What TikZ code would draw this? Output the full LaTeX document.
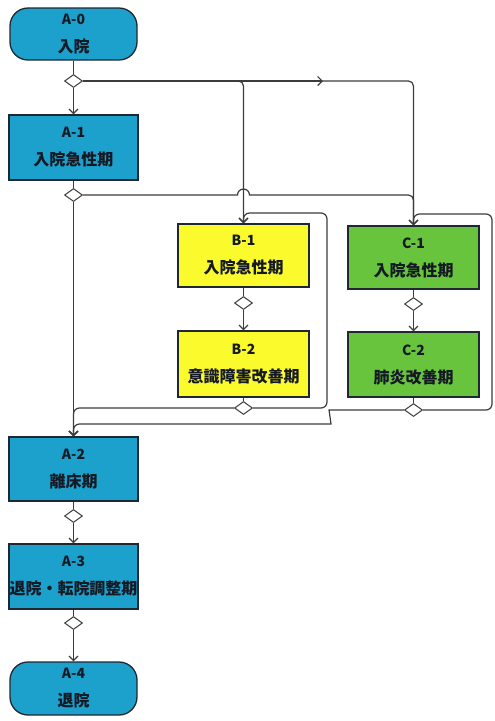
\documentclass[tikz,border=0pt]{standalone}
\usepackage{fontspec}
\newfontfamily\jpfont{Noto Sans CJK JP}
\usetikzlibrary{shapes.geometric,arrows.meta}
\definecolor{cblue}{RGB}{28,160,204}
\definecolor{cyel}{RGB}{250,250,45}
\definecolor{cgrn}{RGB}{104,196,60}
\definecolor{cline}{RGB}{60,60,60}
\definecolor{cborder}{RGB}{30,40,50}
\definecolor{ctext}{RGB}{20,25,35}
\newcommand\twolbl[2]{{\fontsize{14}{16}\selectfont #1}\\[12pt]#2}
\begin{document}
\begin{tikzpicture}[x=1pt,y=-1pt,
  box/.style={draw=cborder, line width=1.3pt, minimum width=129pt, minimum height=64pt,
    inner sep=0pt, align=center, font=\jpfont\bfseries\fontsize{16}{16}\selectfont, text=ctext},
  abox/.style={box, fill=cblue},
  bbox/.style={box, fill=cyel, minimum width=131pt},
  cbox/.style={box, fill=cgrn, minimum width=131pt},
  term/.style={abox, rounded corners=18pt, minimum width=127pt, minimum height=52pt},
  gw/.style={diamond, draw=cline, fill=white, line width=1pt, minimum width=18pt,
    minimum height=13pt, inner sep=0pt},
  link/.style={draw=cline, line width=1.2pt},
  arr/.style={link, -{Straight Barb[length=4.5pt,width=9pt]}},
]
\useasboundingbox (0,0) rectangle (495,721);

% main column
\node[term] (A0) at (73.5,34) {\twolbl{A-0}{入院}};
\node[gw] (D1) at (73.5,81) {};
\node[abox, minimum height=65pt] (A1) at (73.5,147.5) {\twolbl{A-1}{入院急性期}};
\node[gw] (D2) at (73.5,195) {};
\node[abox] (A2) at (73.5,469) {\twolbl{A-2}{離床期}};
\node[gw] (D3) at (73.5,516) {};
\node[abox, minimum height=65pt] (A3) at (73.5,576.5) {\twolbl{A-3}{退院・転院調整期}};
\node[gw] (D4) at (73.5,623) {};
\node[term, minimum height=53pt] (A4) at (73.5,688.5) {\twolbl{A-4}{退院}};

% B column
\node[bbox, minimum height=63pt] (B1) at (243.5,255.5) {\twolbl{B-1}{入院急性期}};
\node[gw] (DB1) at (243.5,303) {};
\node[bbox, minimum height=66pt] (B2) at (243.5,364) {\twolbl{B-2}{意識障害改善期}};
\node[gw] (DB2) at (243.5,408) {};

% C column
\node[cbox, minimum height=63pt] (C1) at (413.5,257.5) {\twolbl{C-1}{入院急性期}};
\node[gw] (DC1) at (413.5,304) {};
\node[cbox, minimum height=65pt] (C2) at (413.5,364.5) {\twolbl{C-2}{肺炎改善期}};
\node[gw] (DC2) at (413.5,410) {};

% helper coordinates
\coordinate (jB) at (236,81);
\coordinate (midArrow) at (323,81);
\coordinate (hopStart) at (237.5,195);
\coordinate (bLoop) at (327,213);
\coordinate (cLoop) at (492,214);
\coordinate (cS1) at (335,410);
\coordinate (cS2) at (325,424);

% main column connectors
\draw[link] (A0) -- (D1);
\draw[arr] (D1) -- (A1);
\draw[link] (A1) -- (D2);
\draw[arr] (D2) -- (A2);
\draw[link] (A2) -- (D3);
\draw[arr] (D3) -- (A3);
\draw[link] (A3) -- (D4);
\draw[arr] (D4) -- (A4);

% B / C chains
\draw[link] (B1) -- (DB1);
\draw[arr] (DB1) -- (B2);
\draw[link] (B2) -- (DB2);
\draw[link] (C1) -- (DC1);
\draw[arr] (DC1) -- (C2);
\draw[link] (C2) -- (DC2);

% split after A-0
\draw[arr, rounded corners=5] (D1.east) -| (C1.north);
\draw[arr] (D1.east) -- (midArrow);
\draw[arr, rounded corners=5] (jB) -| (B1.north);

% from A-1 gateway to C (hop over B line)
\draw[link] (D2.east) -- (hopStart) arc[start angle=180, end angle=360, radius=6]
  [rounded corners=5] -| (C1.north);

% B loop back and exit
\draw[arr, rounded corners=6] (DB2.east) -| (bLoop) -| (B1.north);
\draw[arr, rounded corners=6] (DB2.west) -| (A2.north);

% C loop back and exit
\draw[arr, rounded corners=6] (DC2.east) -| (cLoop) -| (C1.north);
\draw[arr, rounded corners=6] (DC2.west) -- (cS1) .. controls (329,410) and (331,424) .. (cS2) -| (A2.north);
\end{tikzpicture}
\end{document}
